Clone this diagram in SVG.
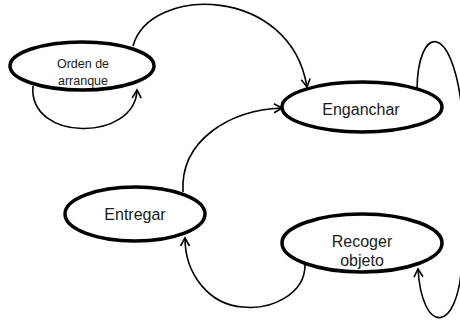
<svg xmlns="http://www.w3.org/2000/svg" width="460" height="326" viewBox="0 0 460 326">
<defs>
<style>
.node ellipse{fill:#fff;stroke:#000;stroke-width:3.5}
.node text{font-family:"Liberation Sans",Arial,sans-serif;fill:#1a1a1a;text-anchor:middle}
.edge{fill:none;stroke:#000;stroke-width:1.6;marker-end:url(#arr)}
</style>
<marker id="arr" markerUnits="userSpaceOnUse" markerWidth="12" markerHeight="12" refX="9" refY="5" orient="auto" viewBox="0 0 12 10">
<path d="M1,0.5 L9,5 L1,9.5" fill="none" stroke="#000" stroke-width="1.6"/>
</marker>
</defs>
<rect width="460" height="326" fill="#fff"/>
<g id="connectors">
<path class="edge" d="M133,46 C150,-15 290,-15 307,87"/>
<path class="edge" d="M33,86 C28,142 135,142 137,90"/>
<path class="edge" d="M417,89 C418,25 452,20 462,110" style="marker-end:none"/>
<path class="edge" d="M183,192 C180,140 230,110 282,108"/>
<path class="edge" d="M305,265 C305,295 270,310 243,307 C210,305 185,275 185,238"/>
<path class="edge" d="M462,262 C458,335 422,335 418,269"/>
</g>
<g id="orden" class="node">
<ellipse cx="82" cy="66" rx="72" ry="24"/>
<text x="83" y="68" font-size="12.5">Orden de</text>
<text x="83" y="85" font-size="12.5">arranque</text>
</g>
<g id="enganchar" class="node">
<ellipse cx="362" cy="107" rx="80" ry="25"/>
<text x="361" y="115" font-size="16">Enganchar</text>
</g>
<g id="entregar" class="node">
<ellipse cx="135" cy="214" rx="70" ry="27"/>
<text x="135" y="220" font-size="16">Entregar</text>
</g>
<g id="recoger" class="node">
<ellipse cx="362" cy="243" rx="80" ry="29"/>
<text x="362" y="247" font-size="16">Recoger</text>
<text x="362" y="266" font-size="16">objeto</text>
</g>
</svg>
